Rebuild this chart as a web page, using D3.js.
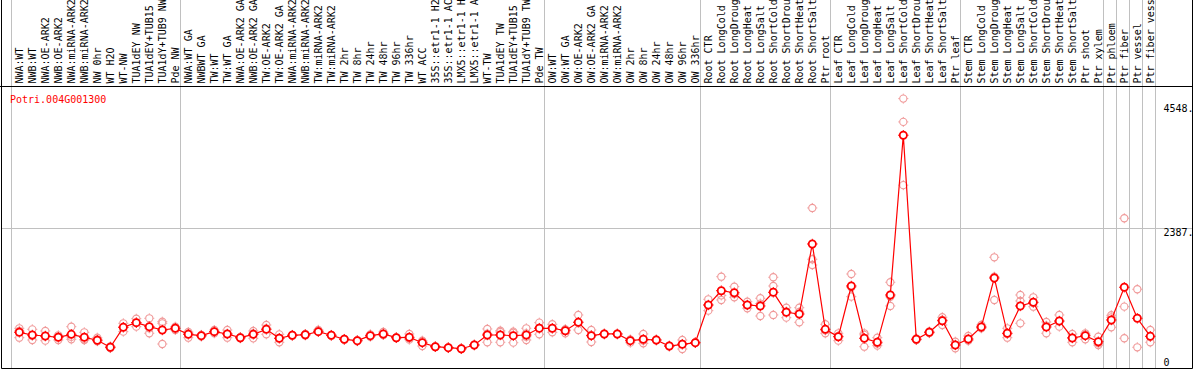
<!DOCTYPE html>
<html><head><meta charset="utf-8">
<script src="https://cdn.jsdelivr.net/npm/d3@7"></script>
<style>html,body{margin:0;padding:0;background:#fff;}svg{display:block;}</style>
</head><body><svg id="c" width="1194" height="370"></svg>
<script>
const title = "Potri.004G001300";
const categories = [
"NWA:WT","NWB:WT","NWA:OE-ARK2","NWB:OE-ARK2","NWA:miRNA-ARK2","NWB:miRNA-ARK2","NW 0hr","WT H2O","WT-NW","TUA1dEY NW","TUA1dEY+TUB15 NW","TUA1dY+TUB9 NW","Pde NW",
"NWA:WT GA","NWBWT GA","TW:WT","TW:WT GA","NWA:OE-ARK2 GA","NWB:OE-ARK2 GA","TW:OE-ARK2","TW:OE-ARK2 GA","NWA:miRNA-ARK2","NWB:miRNA-ARK2","TW:miRNA-ARK2","TW:miRNA-ARK2","TW 2hr","TW 8hr","TW 24hr","TW 48hr","TW 96hr","TW 336hr","WT ACC","35S::etr1-1 H2O","35S::etr1-1 ACC","LMX5::etr1-1 H2O","LMX5::etr1-1 ACC","WT-TW","TUA1dEY TW","TUA1dEY+TUB15 TW","TUA1dY+TUB9 TW","Pde TW",
"OW:WT","OW:WT GA","OW:OE-ARK2","OW:OE-ARK2 GA","OW:miRNA-ARK2","OW:miRNA-ARK2","OW 2hr","OW 8hr","OW 24hr","OW 48hr","OW 96hr","OW 336hr",
"Root CTR","Root LongCold","Root LongDrought","Root LongHeat","Root LongSalt","Root ShortCold","Root ShortDrought","Root ShortHeat","Root ShortSalt","Ptr root",
"Leaf CTR","Leaf LongCold","Leaf LongDrought","Leaf LongHeat","Leaf LongSalt","Leaf ShortCold","Leaf ShortDrought","Leaf ShortHeat","Leaf ShortSalt","Ptr leaf",
"Stem CTR","Stem LongCold","Stem LongDrought","Stem LongHeat","Stem LongSalt","Stem ShortCold","Stem ShortDrought","Stem ShortHeat","Stem ShortSalt","Ptr shoot","Ptr xylem",
"Ptr phloem","Ptr fiber","Ptr vessel","Ptr fiber vessel"];
// index of first category of each group (a separator line is drawn before it); 88 = end
const groupStarts = [0,13,41,53,63,73,84,85,86,87,88];
const meanValues = [575,528,511,488,540,488,436,314,662,743,673,615,645,
540,516,586,546,481,540,627,471,523,533,586,523,453,429,516,546,481,488,394,324,307,289,354,528,528,516,528,645,
645,603,749,516,546,546,429,453,441,336,366,394,
1051,1300,1265,1051,1034,1272,924,894,2114,627,
498,1382,471,401,1225,4009,453,575,777,354,
458,668,1522,558,1034,1098,668,772,476,516,411,
790,1360,819,505];
const rep1 = [645,627,598,523,673,575,481,330,732,812,819,760,673,
558,530,615,615,470,598,702,540,515,520,600,515,445,420,540,580,475,546,429,318,300,283,348,633,603,586,645,743,
715,627,877,615,540,540,394,546,435,330,441,388,
1150,1544,1370,1108,1168,1534,1004,1004,2742,715,
558,1591,558,481,1447,4647,470,590,837,411,
511,702,1882,645,1225,1185,755,877,546,558,498,
872,2562,1325,615];
const rep2 = [481,441,429,441,453,441,453,314,586,673,558,732,615,
481,500,558,481,492,558,645,401,530,545,618,530,460,437,498,528,488,471,336,330,314,295,360,401,401,394,558,540,
575,558,615,406,552,552,447,383,447,342,284,400,
952,1138,1185,994,859,1382,830,749,1848,558,
429,1196,324,342,1034,4241,440,560,702,296,
430,645,1544,481,1121,1021,558,673,401,453,383,
662,1022,314,401];
const rep3 = [600,515,505,500,495,450,420,300,668,745,645,371,645,
580,516,586,545,481,470,540,470,523,533,600,523,453,429,510,530,481,447,417,324,307,289,354,550,580,568,498,652,
645,624,755,527,546,546,446,430,441,336,373,394,
1051,1218,1240,1051,1075,877,938,929,1748,608,
507,1359,531,380,1194,3139,450,575,792,355,
435,657,1138,548,732,1088,691,766,481,537,352,
836,471,null,499];
const rep4 = categories.map((d,i)=> i===39 ? 441 : null);
const yTicks = [4548, 2387, 0];
const yTickLabels = ["4548.", "2387.", "0"];

const svg = d3.select("#c");
const W = 1194, H = 370;
const plotTop = 86.5, plotBottom = 368.5, plotLeft = 1.5, plotRight = 1192.5;
const band = d3.scaleBand().domain(d3.range(categories.length)).range([11.3, 1155.3]).padding(0);
const x = i => band(i) + 8;
const y = d3.scaleLinear().domain([0, 4548]).range([365.3, 104.3]);
const FONT = "'DejaVu Sans Mono', monospace";

// group separator lines (full height)
svg.append("g").selectAll("line").data(groupStarts).join("line")
  .attr("x1", d => Math.round(band(d) !== undefined ? band(d) : band(categories.length-1)+13) + 0.5)
  .attr("x2", d => Math.round(band(d) !== undefined ? band(d) : band(categories.length-1)+13) + 0.5)
  .attr("y1", 0).attr("y2", plotBottom)
  .attr("stroke", "#c0c0c0").attr("stroke-width", 1);

// horizontal grid at middle tick
svg.append("g").selectAll("line").data(yTicks.filter(v => v !== 0 && v !== 4548)).join("line")
  .attr("x1", plotLeft).attr("x2", plotRight)
  .attr("y1", d => Math.round(y(d)) + 0.5).attr("y2", d => Math.round(y(d)) + 0.5)
  .attr("stroke", "#c0c0c0").attr("stroke-width", 1);

// frame
const fr = svg.append("g").attr("stroke", "#000").attr("stroke-width", 1);
fr.append("line").attr("x1", plotLeft).attr("x2", plotLeft).attr("y1", 0).attr("y2", plotBottom);
fr.append("line").attr("x1", plotRight).attr("x2", plotRight).attr("y1", 0).attr("y2", plotBottom);
fr.append("line").attr("x1", 0).attr("x2", plotRight).attr("y1", plotTop).attr("y2", plotTop);
fr.append("line").attr("x1", plotLeft).attr("x2", plotRight).attr("y1", plotBottom).attr("y2", plotBottom);

// category labels (rotated)
svg.append("g").selectAll("text").data(categories).join("text")
  .attr("transform", (d,i) => `translate(${x(i)+3.7},83.5) rotate(-90)`)
  .attr("font-family", FONT).attr("font-size", 10).attr("fill", "#000")
  .text(d => d);

// y tick labels
svg.append("g").selectAll("text").data(yTicks).join("text")
  .attr("x", 1163.5)
  .attr("y", d => Math.min(y(d), 358.7) + 7.6)
  .attr("font-family", FONT).attr("font-size", 10).attr("fill", "#000")
  .text((d,i) => yTickLabels[i]);

// title
svg.append("text").attr("x", 10).attr("y", 102.5)
  .attr("font-family", FONT).attr("font-size", 10).attr("fill", "#ff0000").text(title);

// replicates
const reps = [rep1, rep2, rep3, rep4];
const repPts = [];
reps.forEach(r => r.forEach((v,i) => { if (v !== null) repPts.push({i, v}); }));
const RC = "#f09a9a";
const rg = svg.append("g");
rg.selectAll("circle").data(repPts).join("circle")
  .attr("cx", d => x(d.i)).attr("cy", d => y(d.v)).attr("r", 3.6)
  .attr("fill", "none").attr("stroke", RC).attr("stroke-width", 1.1);
rg.selectAll("path").data(repPts).join("path")
  .attr("d", d => { const cx = x(d.i), cy = y(d.v); return `M${cx-5},${cy}h1.2M${cx+3.8},${cy}h1.2M${cx},${cy-5}v1.2M${cx},${cy+3.8}v1.2`; })
  .attr("stroke", RC).attr("stroke-width", 1);

// mean line
svg.append("path").datum(meanValues)
  .attr("d", d3.line().x((d,i) => x(i)).y(d => y(d)))
  .attr("fill", "none").attr("stroke", "#ff0000").attr("stroke-width", 1.2);

// mean circles
const mg = svg.append("g");
mg.selectAll("circle").data(meanValues).join("circle")
  .attr("cx", (d,i) => x(i)).attr("cy", d => y(d)).attr("r", 3.6)
  .attr("fill", "#fff").attr("stroke", "#ff0000").attr("stroke-width", 1.8);
mg.selectAll("path").data(meanValues).join("path")
  .attr("d", (d,i) => { const cx = x(i), cy = y(d); return `M${cx-5.2},${cy}h1.2M${cx+4},${cy}h1.2M${cx},${cy-5.2}v1.2M${cx},${cy+4}v1.2`; })
  .attr("stroke", "#ff0000").attr("stroke-width", 1);
</script></body></html>
